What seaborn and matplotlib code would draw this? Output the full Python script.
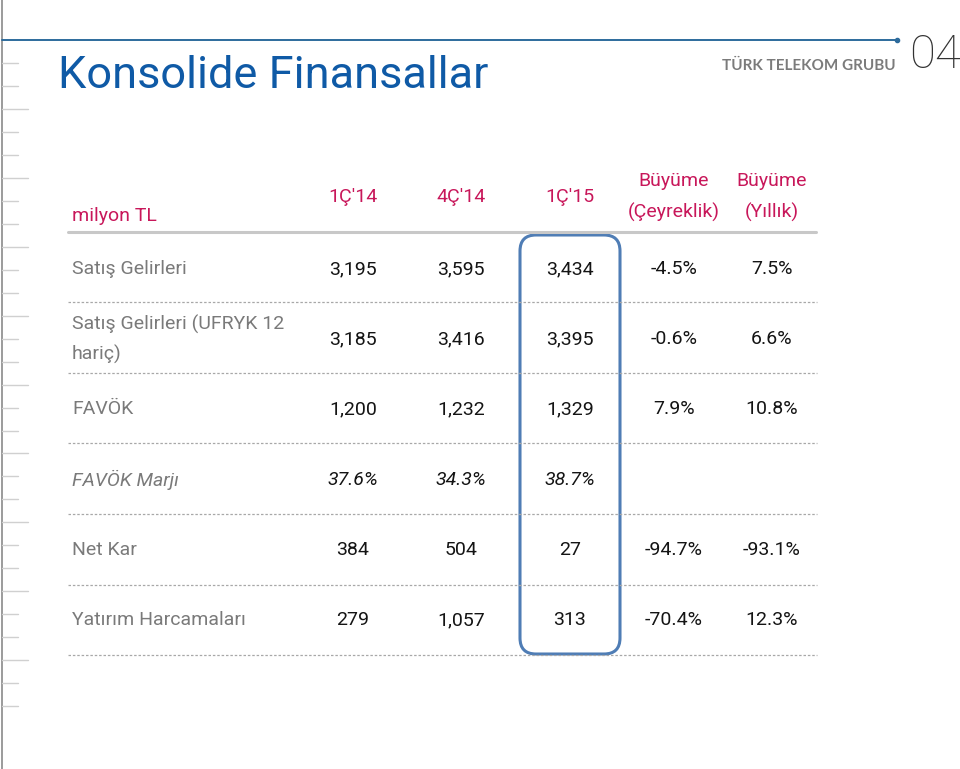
import matplotlib
matplotlib.use("Agg")
import matplotlib.pyplot as plt
from matplotlib.patches import FancyBboxPatch
import seaborn as sns

# ---------------- data ----------------
title = "Konsolide Finansallar"
unit_label = "milyon TL"
brand = "TÜRK TELEKOM GRUBU"
page_no = "04"
period_headers = ["1Ç'14", "4Ç'14", "1Ç'15"]
growth_top = ["Büyüme", "Büyüme"]
growth_bottom = ["(Çeyreklik)", "(Yıllık)"]
row_labels = ["Satış Gelirleri", "Satış Gelirleri (UFRYK 12\nhariç)", "FAVÖK",
              "FAVÖK Marjı", "Net Kar", "Yatırım Harcamaları"]
q1_14 = ["3,195", "3,185", "1,200", "37.6%", "384", "279"]
q4_14 = ["3,595", "3,416", "1,232", "34.3%", "504", "1,057"]
q1_15 = ["3,434", "3,395", "1,329", "38.7%", "27", "313"]
growth_q = ["-4.5%", "-0.6%", "7.9%", "", "-94.7%", "-70.4%"]
growth_y = ["7.5%", "6.6%", "10.8%", "", "-93.1%", "12.3%"]
italic_rows = [False, False, False, True, False, False]

# ---------------- layout ----------------
sns.set_theme(style="white")
plt.rcParams["font.family"] = ["Roboto", "DejaVu Sans"]

W, H = 960, 769
fig = plt.figure(figsize=(W / 100, H / 100), dpi=100)
ax = fig.add_axes([0, 0, 1, 1])
ax.set_xlim(0, W)
ax.set_ylim(H, 0)
ax.axis("off")

blue = "#0f5aa6"
crimson = "#c8175a"
grey_lab = "#7a7a7a"
val_col = "#141414"

# left margin rule with ticks
ax.plot([2, 2], [0, H], color="#8a8a8a", lw=1.2)
for i in range(29):
    y = 63 + 22.97 * i
    L = 26 if i % 3 == 2 else 16
    ax.plot([2, 2 + L], [y, y], color="#d0d0d0", lw=1.0)

# top rule
ax.plot([2, 897], [40, 40], color="#2d6b9c", lw=1.4)
ax.plot([897], [40], marker="o", ms=3, color="#2d6b9c")
ax.text(58, 76, title, color=blue, fontsize=32.5, va="center", ha="left",
        family=["Roboto", "DejaVu Sans"])
ax.text(896, 66, brand, color="#7b7b7b", fontsize=11, fontweight="bold",
        va="center", ha="right", family=["Lato", "DejaVu Sans"])
ax.text(909, 55, page_no, color="#333333", fontsize=34, fontweight="light",
        va="center", ha="left", family=["Roboto", "DejaVu Sans"])

# headers
fs = 14
ax.text(72, 216, unit_label, color=crimson, fontsize=fs, va="center", ha="left")
col_x = [353, 461, 570, 674, 772]
for x, h in zip(col_x[:3], period_headers):
    ax.text(x, 197, h, color=crimson, fontsize=fs, va="center", ha="center")
for x, t, b in zip(col_x[3:], growth_top, growth_bottom):
    ax.text(x, 181, t, color=crimson, fontsize=fs, va="center", ha="center")
    ax.text(x, 212, b, color=crimson, fontsize=fs, va="center", ha="center")
ax.plot([68, 816], [232, 232], color="#c8c8c8", lw=2.2)

# rows
row_y = [269, 339, 409, 480, 550, 620]
line_y = [302, 373, 443, 514, 585, 655]
columns = [q1_14, q4_14, q1_15, growth_q, growth_y]
for r, (y, lab) in enumerate(zip(row_y, row_labels)):
    style = "italic" if italic_rows[r] else "normal"
    if "\n" in lab:
        l1, l2 = lab.split("\n")
        ax.text(72, 324, l1, color=grey_lab, fontsize=fs, va="center", ha="left")
        ax.text(72, 354, l2, color=grey_lab, fontsize=fs, va="center", ha="left")
    else:
        ax.text(72, y, lab, color=grey_lab, fontsize=fs, va="center", ha="left",
                style=style)
    for x, col in zip(col_x, columns):
        if col[r]:
            ax.text(x, y, col[r], color=val_col, fontsize=fs, va="center",
                    ha="center", style=style)
for y in line_y:
    ax.plot([68, 817], [y, y], color="#a8a8a8", lw=0.9, ls=(0, (2, 1.5)))

# highlight box around latest quarter
box = FancyBboxPatch((520, 235), 100, 419,
                     boxstyle="round,pad=0,rounding_size=16",
                     fc="none", ec="#4f7db5", lw=2.2)
ax.add_patch(box)

fig.savefig("out.png", dpi=100)
